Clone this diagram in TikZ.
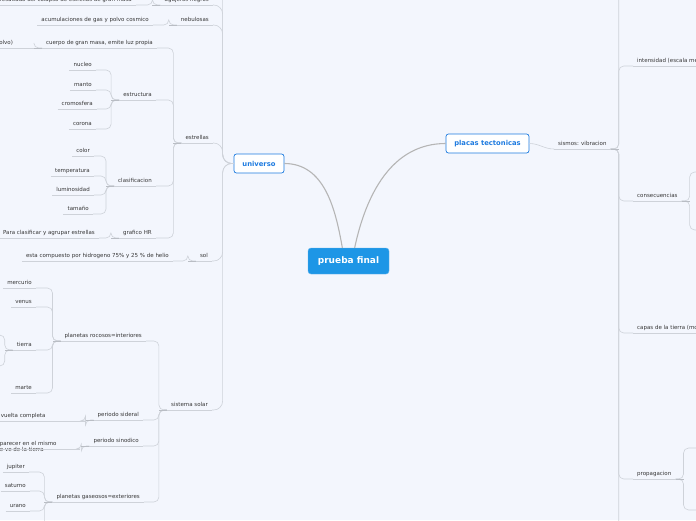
\documentclass[tikz,border=0pt]{standalone}
\usepackage{fontspec}
\setmainfont{DejaVu Sans}
\definecolor{bgcol}{HTML}{F3F6FD}
\definecolor{lnk}{HTML}{CED2D9}
\definecolor{stubcol}{HTML}{B9BDC4}
\definecolor{txt}{HTML}{363636}
\definecolor{mainblue}{HTML}{1E7BE0}
\definecolor{rootblue}{HTML}{1D96E6}
\definecolor{rootlnk}{HTML}{B5B5B5}

\tikzset{
  topic/.style={font=\fontsize{5.5}{6.5}\selectfont, text=txt, inner xsep=4pt, inner ysep=2.5pt,
    text height=3.9pt, text depth=1.2pt},
  lt/.style={topic, anchor=south east},
  rt/.style={topic, anchor=south west},
  mainnode/.style={draw=mainblue, line width=0.7pt, fill=white, rounded corners=2.5pt,
    text=mainblue, font=\fontsize{6.8}{8}\selectfont\bfseries, minimum height=19pt},
  rootnode/.style={fill=rootblue, draw=rootblue!70!white, rounded corners=3pt, text=white,
    font=\fontsize{9}{10}\selectfont\bfseries, minimum width=81pt, minimum height=26pt},
  link/.style={draw=lnk, line width=0.6pt, rounded corners=5pt},
  stub/.style={draw=stubcol, line width=0.8pt},
  uline/.style={draw=lnk, line width=0.6pt},
  trunk/.style={draw=rootlnk, line width=1.1pt},
}

\begin{document}
\begin{tikzpicture}[x=1pt, y=-1pt]
\useasboundingbox (0,0) rectangle (696,520);
\fill[bgcol] (0,0) rectangle (696,520);
\clip (0,0) rectangle (696,520);

\node[rootnode] (root) at (348.5,261) {prueba final};
\node[mainnode, minimum width=50pt] (univ) at (259,163.5) {universo};
\node[mainnode, minimum width=83pt] (plac) at (487.5,143.5) {placas tectonicas};

% universo
\node[lt] (agu) at (213,5) {agujeros negros};
\node[lt] (res) at (136,5) {resultado del colapso de estrellas de gran masa};
\node[lt] (neb) at (213,25) {nebulosas};
\node[lt] (acu) at (153,25) {acumulaciones de gas y polvo cosmico};
\node[lt] (est) at (213,143) {estrellas};
\node[lt] (cue) at (157,48) {cuerpo de gran masa, emite luz propia};
\node[lt, text width=42pt, align=left] (pol) at (42,48) {polvo)};
\node[lt] (ets) at (156,100) {estructura};
\node[lt] (nuc) at (96,70) {nucleo};
\node[lt] (man) at (96,90) {manto};
\node[lt] (cro) at (97,109) {cromosfera};
\node[lt] (cor) at (96,129) {corona};
\node[lt] (cla) at (156,186) {clasificacion};
\node[lt] (col) at (94,156) {color};
\node[lt] (tem) at (94,176) {temperatura};
\node[lt] (lum) at (94,195) {luminosidad};
\node[lt] (tam) at (93,214) {tamaño};
\node[lt] (gra) at (156,238) {grafico HR};
\node[lt] (par) at (99,238) {Para clasificar y agrupar estrellas};
\node[lt] (sol) at (212,261) {sol};
\node[lt] (com) at (173,261) {esta compuesto por hidrogeno 75\% y 25 \% de helio};
\node[lt] (sis) at (212,410) {sistema solar};
\node[lt] (roc) at (146,341) {planetas rocosos=interiores};
\node[lt] (mer) at (36,288) {mercurio};
\node[lt] (ven) at (36,307) {venus};
\node[lt] (tie) at (36,350) {tierra};
\node[lt] (mar) at (36,393) {marte};
\node[lt] (sid) at (143,420) {periodo sideral};
\node[lt, text width=80pt, align=left] (vue) at (85,421) {vuelta completa};
\node[lt] (sin) at (143,446) {periodo sinodico};
\node[lt, text width=76pt, align=left] (apa) at (80,449) {parecer en el mismo\\e ve de la tierra};
\node[lt] (gas) at (144,502) {planetas gaseosos=exteriores};
\node[lt] (jup) at (29,472) {jupiter};
\node[lt] (sat) at (30,491) {saturno};
\node[lt] (ura) at (30,511) {urano};
\coordinate (uTop) at (200,-25);
\coordinate (tUp) at (-20,335);
\coordinate (tDn) at (-20,366);
\coordinate (gBot) at (20,545);

% placas tectonicas
\node[rt] (sism) at (554,149) {sismos: vibracion};
\node[rt] (int) at (633,66) {intensidad (escala me};
\node[rt] (cons) at (633,201) {consecuencias};
\node[rt] (cap) at (633,333) {capas de la tierra (mo};
\node[rt] (prop) at (633,479) {propagacion};
\coordinate (sTop) at (640,-25);
\coordinate (sBot) at (640,545);
\coordinate (c1) at (712,172);
\coordinate (c2) at (712,230);
\coordinate (p1) at (712,448);
\coordinate (p2) at (712,510);

\draw[trunk] (root.115) to[out=100, in=0] (univ.east);
\draw[trunk] (root.65) to[out=78, in=180] (plac.west);
\draw[link] (plac.east) to[out=0, in=180] (sism.south west);

\foreach \c in {agu,neb,est,sol,sis}
  \draw[link, rounded corners=9pt] (univ.west) -- ++(-11,0) |- (\c.south east);
\draw[link, rounded corners=9pt] (univ.west) -- ++(-11,0) |- (uTop);
\foreach \p/\c in {agu/res, neb/acu, est/cue, est/ets, est/cla, est/gra, cue/pol,
    ets/nuc, ets/man, ets/cro, ets/cor, cla/col, cla/tem, cla/lum, cla/tam, gra/par,
    sol/com, sis/roc, sis/sid, sis/sin, sis/gas, roc/mer, roc/ven, roc/tie, roc/mar,
    sid/vue, sin/apa, gas/jup, gas/sat, gas/ura}
  \draw[link] (\p.south west) -- ++(-8,0) |- (\c.south east);
\foreach \p/\c in {tie/tUp, tie/tDn, gas/gBot}
  \draw[link] (\p.south west) -- ++(-8,0) |- (\c);
\foreach \c in {int,cons,cap,prop}
  \draw[link] (sism.south east) -- ++(8,0) |- (\c.south west);
\foreach \p/\c in {sism/sTop, sism/sBot, cons/c1, cons/c2, prop/p1, prop/p2}
  \draw[link] (\p.south east) -- ++(8,0) |- (\c);

\foreach \n in {agu,res,neb,acu,est,cue,pol,ets,nuc,man,cro,cor,cla,col,tem,lum,tam,
    gra,par,sol,com,sis,roc,mer,ven,tie,mar,sid,vue,sin,apa,gas,jup,sat,ura,
    sism,int,cons,cap,prop}
  \draw[uline] (\n.south west) -- (\n.south east);
\foreach \p in {agu,neb,est,cue,ets,cla,gra,sol,sis,roc,sid,sin,gas,tie}
  \draw[stub] (\p.south west) -- ++(-8,0);
\foreach \p in {sism,cons,prop}
  \draw[stub] (\p.south east) -- ++(8,0);
\end{tikzpicture}
\end{document}
